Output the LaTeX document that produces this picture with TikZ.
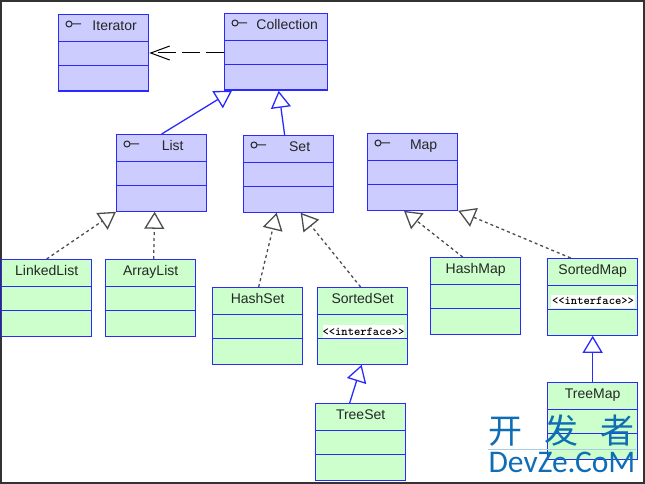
\documentclass[tikz,border=0pt]{standalone}
\usepackage{fontspec}
\setmainfont{Liberation Sans}
\newfontfamily\cjkfont{Noto Sans CJK SC}
\newfontfamily\wmfont{Carlito}
\usetikzlibrary{arrows.meta}
\definecolor{lineblue}{HTML}{2A2AFF}
\definecolor{fillblue}{HTML}{CCCCFF}
\definecolor{fillgreen}{HTML}{CCFFCC}
\definecolor{wmblue}{HTML}{0F6DB5}
\tikzset{
  classbox/.style={draw=lineblue,line width=1.3pt,rectangle,anchor=north west,inner sep=0pt,minimum height=76.5pt},
  classname/.style={text=black!85,font=\fontsize{14}{16}\selectfont,inner sep=0pt,text height=10pt,text depth=3pt},
  stereo/.style={fill=white,inner sep=0pt,minimum width=80pt,minimum height=13pt,font=\fontsize{12}{13}\ttfamily\bfseries},
  tip/.style={-{Triangle[open,fill=white,length=17pt,width=20pt,line width=1.3pt]}},
  inherit/.style={tip,draw=lineblue,line width=1.3pt},
  realize/.style={tip,draw=black!70,line width=1.3pt,dash pattern=on 3pt off 3pt},
}
\begin{document}
\begin{tikzpicture}[x=1pt,y=-1pt]
  \useasboundingbox (0,0) rectangle (645,484);
  \draw[line width=2pt,black!80] (1,1) rectangle (644,483);
  % blue boxes
  \foreach \name/\xa/\ya/\bw/\txt in {iterator/58/14/90/Iterator,collection/224/13/103/Collection,
      list/116/134/90/List,set/243/135/90/Set,map/367/133/90/Map} {%
    \node[classbox,fill=fillblue,minimum width=\bw pt] (\name) at (\xa,\ya) {};
    \node[classname] (\name-txt) at ([xshift=11pt,yshift=-13pt]\name.north) {\txt};
    \draw[lineblue] ([yshift=-27pt]\name.north west) -- ([yshift=-27pt]\name.north east);
    \draw[lineblue] ([yshift=-51pt]\name.north west) -- ([yshift=-51pt]\name.north east);
    \draw[black!85,line width=1pt] ([xshift=11pt,yshift=-10pt]\name.north west) circle (3pt)
      ++(3pt,0) -- ++(9pt,0);
  }
  % green boxes
  \foreach \name/\xa/\ya/\txt in {linkedlist/1/259/LinkedList,arraylist/105/259/ArrayList,hashset/212/287/HashSet,
      sortedset/317/287/SortedSet,treeset/315/403/TreeSet,hashmap/430/257/HashMap,
      sortedmap/547/258/SortedMap,treemap/547/382/TreeMap} {%
    \node[classbox,fill=fillgreen,minimum width=90pt] (\name) at (\xa,\ya) {};
    \node[classname] (\name-txt) at ([yshift=-13pt]\name.north) {\txt};
    \draw[lineblue] ([yshift=-27pt]\name.north west) -- ([yshift=-27pt]\name.north east);
    \draw[lineblue] ([yshift=-51pt]\name.north west) -- ([yshift=-51pt]\name.north east);
  }
  \node[stereo] (setstereo) at (363.5,331.5) {<<interface>>};
  \node[stereo,minimum width=84pt] (mapstereo) at (593,301) {<<interface>>};
  % connectors
  \draw[-{Straight Barb[length=19pt,width=14pt]},black,line width=1pt,dash pattern=on 18pt off 6pt]
    ([yshift=-40pt]collection.north west) -- ([yshift=-39pt]iterator.north east);
  \draw[inherit] (list.north) -- ([xshift=8pt]collection.south west);
  \draw[inherit] ([xshift=-4pt]set.north) -- ([xshift=2.5pt]collection.south);
  \draw[inherit] ([xshift=-11pt]treeset.north) -- ([xshift=-1pt]sortedset.south);
  \draw[inherit] (treemap.north) -- (sortedmap.south);
  \draw[realize] (linkedlist.north) -- (list.south west);
  \draw[realize] ([xshift=3pt]arraylist.north) -- ([xshift=-7pt]list.south);
  \draw[realize] ([xshift=1pt]hashset.north) -- ([xshift=-12pt]set.south);
  \draw[realize] ([xshift=-2pt]sortedset.north) -- ([xshift=12pt]set.south);
  \draw[realize] ([xshift=-13pt]hashmap.north) -- ([xshift=37pt]map.south west);
  \draw[realize] ([xshift=-22pt]sortedmap.north) -- (map.south east);
  % watermark
  \node[text=wmblue,font=\fontsize{34}{36}\cjkfont,inner sep=0pt,text height=24pt,text depth=0pt] (wmcjk) at (561,431)
    {开\hspace{22pt}发\hspace{22pt}者};
  \node[text=wmblue,font=\fontsize{31.5}{33}\wmfont,inner sep=0pt,text height=20pt,text depth=0pt] (wmlatin) at (562,462) {DevZe.CoM};
  \draw[wmblue!35] ([yshift=3pt]wmlatin.north west) -- ([yshift=3pt]wmlatin.north east);
\end{tikzpicture}
\end{document}
